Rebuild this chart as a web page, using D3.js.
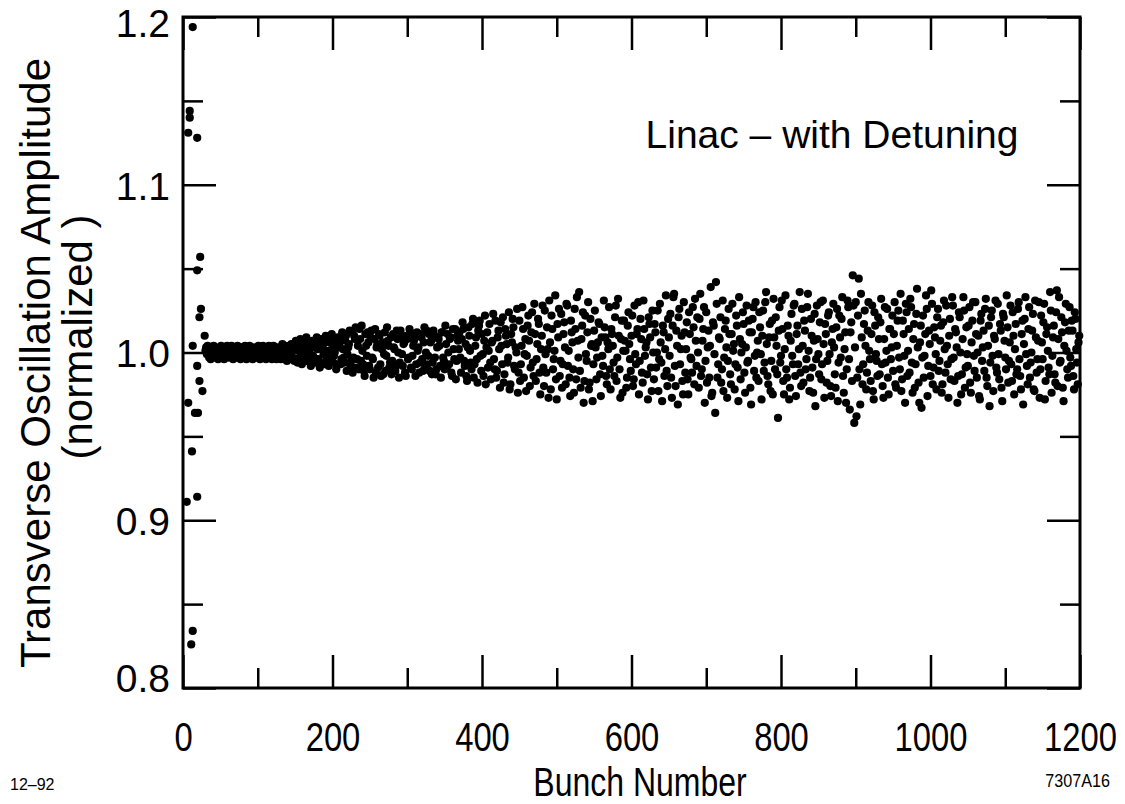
<!DOCTYPE html>
<html>
<head>
<meta charset="utf-8">
<script src="https://cdn.jsdelivr.net/npm/d3@7"></script>
<style>
  body { margin: 0; background: #fff; }
  svg { display: block; }
  text { font-family: "Liberation Sans", Arial, Helvetica, sans-serif; fill: #000; }
</style>
</head>
<body>
<svg width="1125" height="804"></svg>
<script>
// x ticks (bunch number) and y ticks (normalized amplitude)
var xMajor = [0, 200, 400, 600, 800, 1000, 1200];
var xMinor = [100, 300, 500, 700, 900, 1100];
var yMajor = [0.8, 0.9, 1.0, 1.1, 1.2];
var yMinor = [0.85, 0.95, 1.05, 1.15];

// first bunches, read one by one
var earlyBunch = [13, 9, 9, 7, 19, 23, 19, 24, 22, 29, 13, 19, 22, 26, 7, 16, 20, 12, 5, 19, 13, 11];
var earlyAmp = [1.194, 1.144, 1.140, 1.131, 1.128, 1.057, 1.049, 1.026, 1.021, 1.010, 1.004, 0.992,
  0.983, 0.977, 0.970, 0.964, 0.964, 0.941, 0.911, 0.914, 0.834, 0.826];

// rest of the train, even bunches 30, 32, ... 1198
var evenStart = 30;
var evenAmp = [
  // 30 - 148
  1.001, 0.999, 1.002, 1.000, 0.998, 1.001, 1.003, 0.999, 1.000, 1.002,
  0.998, 1.001, 0.999, 1.002, 1.000, 0.999, 1.003, 1.001, 0.998, 1.000,
  1.002, 0.999, 1.001, 1.003, 0.998, 1.000, 1.002, 0.999, 1.001, 0.998,
  1.003, 1.000, 0.999, 1.002, 1.001, 0.998, 1.000, 1.003, 0.999, 1.001,
  1.002, 0.998, 1.000, 1.003, 0.999, 1.001, 0.998, 1.002, 1.000, 0.999,
  1.003, 1.001, 0.998, 1.002, 0.999, 1.000, 1.004, 0.997, 1.001, 1.003,
  // 150 - 248
  0.996, 1.004, 1.001, 0.997, 1.005, 0.999, 1.003, 0.995, 1.006, 1.000,
  0.997, 1.004, 0.998, 1.007, 0.996, 1.002, 1.005, 0.994, 1.003, 0.999,
  1.006, 0.996, 1.001, 1.008, 0.995, 1.004, 0.998, 1.007, 0.993, 1.003,
  1.009, 0.996, 1.002, 0.994, 1.010, 0.999, 1.005, 0.992, 1.012, 0.997,
  1.008, 0.991, 1.004, 1.014, 0.995, 1.001, 0.989, 1.011, 0.998, 1.006,
  // 250 - 368
  0.990, 1.013, 0.996, 1.008, 0.988, 1.005, 1.011, 0.993, 1.002, 0.987,
  1.012, 0.998, 1.007, 0.991, 1.009, 0.995, 1.003, 0.989, 1.013, 1.000,
  0.994, 1.010, 0.992, 1.006, 0.986, 1.008, 0.997, 1.012, 0.990, 1.004,
  1.009, 0.993, 1.001, 0.988, 1.011, 0.996, 1.006, 0.991, 1.013, 0.998,
  0.989, 1.007, 0.994, 1.010, 0.987, 1.003, 1.008, 0.992, 1.012, 0.997,
  0.990, 1.005, 1.011, 0.993, 1.009, 0.986, 1.002, 1.014, 0.995, 1.007,
  // 370 - 1198
  1.012, 0.988, 1.018, 0.995, 1.005, 0.983, 1.015, 1.001, 0.990, 1.020,
  0.993, 1.009, 0.982, 1.016, 0.998, 1.011, 0.986, 1.022, 1.003, 0.991,
  1.017, 0.984, 1.007, 0.996, 1.019, 0.989, 1.013, 0.979, 1.004, 1.021,
  0.987, 1.010, 0.994, 1.024, 0.981, 1.006, 1.015, 0.990, 1.000, 0.976,
  1.019, 0.993, 1.027, 0.985, 1.008, 0.998, 1.022, 0.980, 1.012, 0.994,
  1.029, 0.983, 1.005, 1.017, 0.975, 1.010, 0.991, 1.025, 0.988, 1.002,
  1.031, 0.978, 1.014, 0.996, 1.034, 0.972, 1.009, 0.986, 1.023, 0.993,
  1.018, 0.981, 1.028, 1.001, 0.974, 1.012, 0.990, 1.026, 0.984, 1.007,
  1.036, 0.979, 1.016, 0.970, 1.022, 0.995, 1.030, 0.982, 1.004, 0.971,
  1.013, 1.003, 0.997, 1.018, 0.987, 1.009, 0.992, 1.015, 0.986, 1.006,
  1.027, 0.978, 1.011, 0.994, 1.021, 0.983, 1.032, 0.990, 1.008, 0.976,
  1.019, 1.001, 0.985, 1.024, 0.996, 1.010, 0.980, 1.028, 0.993, 1.014,
  0.975, 1.020, 0.988, 1.031, 0.998, 1.006, 0.972, 1.017, 0.991, 1.025,
  0.984, 1.012, 1.000, 0.977, 1.029, 0.994, 1.016, 0.986, 1.034, 0.980,
  1.009, 1.023, 0.973, 1.033, 0.992, 1.013, 0.969, 1.026, 1.002, 0.983,
  1.030, 0.988, 1.018, 0.975, 1.011, 0.996, 1.027, 0.981, 1.007, 1.021,
  0.979, 1.035, 0.990, 1.014, 0.970, 1.024, 1.003, 0.985, 1.039, 0.976,
  1.016, 0.964, 1.029, 0.993, 1.008, 0.982, 1.031, 0.997, 1.019, 0.973,
  1.026, 0.987, 1.011, 1.001, 0.978, 1.022, 0.991, 1.033, 0.984, 1.005,
  1.017, 0.976, 1.028, 0.995, 1.012, 0.969, 1.020, 0.989, 1.030, 1.000,
  0.983, 1.015, 0.972, 1.025, 0.994, 1.036, 0.986, 1.009, 0.977, 1.019,
  1.032, 0.990, 1.004, 0.961, 1.027, 0.998, 1.014, 0.975, 1.034, 0.985,
  1.010, 0.979, 1.023, 0.993, 1.029, 0.974, 1.016, 1.002, 0.988, 1.026,
  0.982, 1.013, 0.996, 1.035, 0.977, 1.020, 0.991, 1.007, 0.968, 1.028,
  0.999, 1.018, 0.984, 1.031, 0.973, 1.011, 0.995, 1.024, 0.980, 1.006,
  1.029, 0.987, 1.015, 0.971, 1.022, 0.997, 1.033, 0.976, 1.012, 0.990,
  1.027, 0.966, 1.018, 1.046, 0.958, 1.030, 0.985, 1.044, 0.969, 1.009,
  0.993, 1.025, 0.978, 1.013, 1.001, 0.983, 1.028, 0.972, 1.016, 0.995,
  1.021, 0.987, 1.032, 0.980, 1.008, 0.994, 1.026, 0.975, 1.014, 1.003,
  0.989, 1.030, 0.979, 1.019, 0.997, 1.035, 0.984, 1.011, 0.970, 1.024,
  1.001, 0.988, 1.027, 0.976, 1.017, 0.993, 1.038, 0.982, 1.006, 0.967,
  1.022, 0.998, 1.034, 0.974, 1.013, 0.986, 1.029, 0.991, 1.009, 0.978,
  1.026, 0.995, 1.016, 0.981, 1.031, 0.988, 1.004, 0.973, 1.020, 0.996,
  1.028, 0.983, 1.012, 0.970, 1.024, 1.000, 0.987, 1.033, 0.979, 1.015,
  0.992, 1.027, 0.976, 1.019, 0.998, 1.030, 0.985, 1.010, 0.972, 1.023,
  1.003, 0.989, 1.032, 0.980, 1.016, 0.994, 1.025, 0.977, 1.008, 0.991,
  1.029, 0.984, 1.013, 0.971, 1.021, 0.997, 1.034, 0.982, 1.006, 0.993,
  1.024, 0.975, 1.017, 0.990, 1.030, 0.986, 1.011, 0.969, 1.020, 0.999,
  0.981, 1.027, 0.994, 1.013, 0.978, 1.031, 0.988, 1.007, 0.973, 1.022,
  0.996, 1.029, 0.983, 1.015, 0.991, 1.036, 0.976, 1.009, 0.987, 1.024,
  0.980, 1.033, 0.995, 1.012, 0.971, 1.018, 1.001, 0.985, 1.027, 0.992,
  1.013, 0.978, 1.020, 0.994, 1.006
];

// odd bunches 31, 33, ... 1199
var oddStart = 31;
var oddAmp = [
  // 31 - 149
  1.003, 1.004, 0.997, 0.996, 1.001, 1.004, 0.997, 1.000, 0.996, 1.003,
  1.004, 0.998, 0.996, 1.002, 1.004, 0.997, 0.999, 1.004, 0.996, 1.002,
  0.997, 1.004, 1.000, 0.996, 1.003, 0.997, 1.004, 0.996, 1.001, 1.004,
  0.997, 0.996, 1.003, 1.000, 0.997, 1.004, 0.996, 1.002, 1.004, 0.997,
  0.996, 1.003, 1.004, 0.998, 0.996, 1.004, 1.001, 0.996, 1.003, 0.997,
  0.996, 1.005, 0.998, 1.004, 0.995, 1.003, 0.996, 1.005, 0.997, 0.995,
  // 151 - 249
  1.007, 0.994, 1.002, 1.008, 0.993, 0.998, 1.006, 1.009, 0.995, 1.001,
  0.992, 1.007, 1.003, 0.994, 1.009, 0.996, 0.991, 1.008, 1.004, 0.993,
  1.010, 0.997, 0.992, 1.006, 1.011, 0.994, 1.000, 0.990, 1.009, 1.005,
  0.993, 1.012, 0.997, 1.007, 0.989, 1.003, 1.013, 0.995, 0.988, 1.010,
  1.015, 0.996, 0.990, 1.008, 1.016, 0.993, 0.986, 1.004, 1.012, 0.992,
  // 251 - 369
  1.009, 0.997, 0.985, 1.014, 1.003, 0.991, 1.010, 0.986, 1.006, 0.999,
  0.989, 1.015, 1.004, 0.994, 0.987, 1.011, 1.002, 0.992, 1.008, 0.985,
  1.013, 0.999, 1.005, 0.988, 1.010, 0.996, 1.014, 0.991, 0.998, 1.007,
  0.986, 1.012, 1.003, 0.994, 1.009, 0.989, 1.015, 1.000, 0.993, 1.011,
  1.006, 0.987, 1.013, 0.997, 0.990, 1.009, 1.004, 0.985, 1.012, 0.995,
  1.016, 0.991, 1.000, 1.008, 0.988, 1.014, 0.996, 0.984, 1.010, 1.002,
  // 371 - 1199
  0.997, 1.008, 1.014, 0.992, 0.986, 1.003, 1.010, 0.994, 1.017, 0.985,
  1.004, 0.996, 1.013, 1.019, 0.989, 0.999, 1.007, 0.981, 1.012, 1.001,
  0.994, 1.006, 1.023, 0.990, 0.985, 1.009, 1.002, 1.018, 0.993, 0.982,
  1.014, 1.005, 0.997, 0.978, 1.011, 1.020, 0.992, 1.003, 1.026, 0.988,
  0.983, 1.004, 1.014, 0.999, 0.977, 1.016, 1.007, 0.991, 1.024, 0.986,
  1.011, 0.996, 1.020, 0.988, 1.002, 1.028, 0.980, 0.999, 1.015, 0.973,
  1.006, 1.022, 0.990, 1.001, 0.984, 1.017, 1.026, 0.995, 0.979, 1.011,
  1.003, 1.029, 0.992, 0.985, 1.019, 1.006, 0.976, 1.014, 1.033, 0.997,
  0.989, 1.008, 1.024, 0.983, 0.999, 1.012, 0.978, 1.020, 1.005, 0.993,
  1.025, 0.984, 1.006, 1.017, 0.974, 0.998, 1.031, 1.009, 0.981, 1.002,
  0.990, 1.014, 1.004, 0.986, 1.028, 0.997, 1.010, 0.973, 1.019, 1.001,
  1.007, 0.979, 1.016, 1.005, 0.989, 1.022, 0.984, 0.999, 1.011, 1.030,
  0.995, 1.008, 0.982, 1.014, 1.003, 0.987, 1.021, 1.009, 0.977, 1.000,
  1.017, 0.991, 1.025, 0.996, 1.006, 0.971, 1.012, 1.002, 0.989, 1.020,
  0.998, 0.985, 1.016, 1.035, 0.980, 1.004, 1.021, 0.993, 1.010, 0.975,
  1.012, 1.002, 0.984, 1.024, 0.997, 0.988, 1.015, 1.032, 0.992, 1.000,
  1.020, 0.986, 1.007, 1.027, 0.995, 0.982, 1.013, 1.004, 0.974, 1.018,
  0.999, 1.042, 0.985, 1.009, 1.021, 0.990, 0.977, 1.014, 1.003, 0.995,
  1.011, 0.981, 1.029, 1.005, 0.993, 1.016, 0.971, 1.008, 1.000, 1.024,
  0.988, 1.003, 0.994, 1.019, 0.979, 1.012, 1.027, 0.998, 0.985, 1.007,
  1.024, 0.999, 1.010, 0.989, 1.030, 1.005, 0.981, 1.017, 0.995, 0.975,
  1.009, 1.021, 0.987, 1.013, 0.994, 1.031, 0.983, 1.002, 0.990, 1.016,
  0.972, 1.007, 0.998, 1.028, 0.986, 1.011, 0.993, 1.036, 0.980, 1.004,
  1.019, 0.990, 1.027, 1.001, 0.985, 1.010, 0.976, 1.023, 0.996, 1.008,
  0.987, 1.030, 0.993, 1.005, 1.017, 0.982, 1.022, 0.999, 0.974, 1.014,
  1.003, 0.979, 1.026, 0.994, 1.009, 1.020, 0.986, 1.002, 0.970, 1.031,
  0.996, 1.012, 0.983, 1.028, 1.003, 0.962, 1.022, 0.990, 1.035, 0.981,
  1.017, 1.004, 0.988, 1.030, 0.996, 1.011, 0.977, 1.024, 0.999, 0.986,
  1.008, 1.018, 0.993, 0.973, 1.027, 1.001, 0.985, 1.014, 0.996, 1.022,
  1.011, 0.981, 1.004, 1.025, 0.990, 0.977, 1.019, 0.998, 1.029, 0.986,
  1.014, 1.032, 0.994, 1.008, 0.979, 1.023, 1.003, 0.970, 1.016, 0.997,
  0.985, 1.011, 1.026, 0.992, 1.005, 1.037, 0.981, 1.015, 0.999, 1.021,
  0.989, 1.007, 0.976, 1.018, 1.002, 1.028, 0.993, 1.010, 0.984, 1.033,
  0.997, 1.014, 1.003, 0.986, 1.021, 0.975, 1.008, 1.025, 0.991, 0.999,
  1.016, 0.982, 1.006, 1.030, 0.989, 1.011, 1.000, 0.974, 1.019, 0.995,
  1.013, 1.026, 0.985, 1.004, 0.968, 1.021, 0.998, 1.010, 1.031, 0.988,
  0.999, 1.017, 0.979, 1.023, 1.007, 0.990, 1.015, 0.995, 1.028, 0.983,
  1.010, 1.002, 0.987, 1.026, 0.996, 0.978, 1.019, 1.005, 1.033, 0.992,
  1.014, 0.985, 1.000, 1.023, 0.977, 1.009, 0.996, 1.030, 0.990, 1.006,
  1.018, 0.972, 1.011, 1.001, 0.987, 1.025, 0.998, 1.016, 0.982, 1.037,
  1.008, 0.994, 1.021, 0.979, 1.004, 1.029, 0.990, 1.013, 0.997, 1.019,
  0.986, 1.024, 1.002, 0.981, 1.010
];

var svg = d3.select("svg");
var plotLeft = 183, plotRight = 1080, plotTop = 17, plotBottom = 688;

var x = d3.scaleLinear().domain([0, 1200]).range([plotLeft, plotRight]);
var y = d3.scaleLinear().domain([0.8, 1.2]).range([plotBottom, plotTop]);

var points = [];
earlyBunch.forEach(function (b, i) {
    points.push({ bunch: b, amp: earlyAmp[i] });
});
evenAmp.forEach(function (a, i) {
    points.push({ bunch: evenStart + i * 2, amp: a });
});
oddAmp.forEach(function (a, i) {
    points.push({ bunch: oddStart + i * 2, amp: a });
});

// dots
svg.append("g")
    .selectAll("circle")
    .data(points)
    .enter()
    .append("circle")
    .attr("cx", function (d) { return x(d.bunch); })
    .attr("cy", function (d) { return y(d.amp); })
    .attr("r", 4.1)
    .attr("fill", "#000");

// axes, ticks pointing inwards
function styleAxis(g) {
    g.select(".domain").remove();
    g.selectAll(".tick line").attr("stroke", "#000").attr("stroke-width", 2.5);
}

var bottomAxis = svg.append("g")
    .attr("transform", "translate(0," + plotBottom + ")")
    .call(d3.axisBottom(x).tickValues(xMajor).tickSize(-33).tickPadding(34).tickFormat(d3.format("d")))
    .call(styleAxis);
bottomAxis.selectAll("text")
    .attr("font-size", 41)
    .attr("font-family", "Liberation Sans, Arial, sans-serif")
    .attr("fill", "#000")
    .attr("transform", "scale(0.8,1)");

svg.append("g")
    .attr("transform", "translate(0," + plotBottom + ")")
    .call(d3.axisBottom(x).tickValues(xMinor).tickSize(-20).tickFormat(""))
    .call(styleAxis);

svg.append("g")
    .attr("transform", "translate(0," + plotTop + ")")
    .call(d3.axisTop(x).tickValues(xMajor).tickSize(-33).tickFormat(""))
    .call(styleAxis);
svg.append("g")
    .attr("transform", "translate(0," + plotTop + ")")
    .call(d3.axisTop(x).tickValues(xMinor).tickSize(-20).tickFormat(""))
    .call(styleAxis);

var leftAxis = svg.append("g")
    .attr("transform", "translate(" + plotLeft + ",0)")
    .call(d3.axisLeft(y).tickValues(yMajor).tickSize(-33).tickPadding(13).tickFormat(d3.format(".1f")))
    .call(styleAxis);
leftAxis.selectAll("text")
    .attr("font-size", 39)
    .attr("font-family", "Liberation Sans, Arial, sans-serif")
    .attr("fill", "#000")
    .attr("dy", function (d) {
        if (d === 1.2) return "0.5em";
        if (d === 0.8) return "0.08em";
        return "0.37em";
    });

svg.append("g")
    .attr("transform", "translate(" + plotLeft + ",0)")
    .call(d3.axisLeft(y).tickValues(yMinor).tickSize(-20).tickFormat(""))
    .call(styleAxis);

svg.append("g")
    .attr("transform", "translate(" + plotRight + ",0)")
    .call(d3.axisRight(y).tickValues(yMajor).tickSize(-33).tickFormat(""))
    .call(styleAxis);
svg.append("g")
    .attr("transform", "translate(" + plotRight + ",0)")
    .call(d3.axisRight(y).tickValues(yMinor).tickSize(-20).tickFormat(""))
    .call(styleAxis);

// frame
svg.append("rect")
    .attr("x", plotLeft)
    .attr("y", plotTop)
    .attr("width", plotRight - plotLeft)
    .attr("height", plotBottom - plotTop)
    .attr("fill", "none")
    .attr("stroke", "#000")
    .attr("stroke-width", 3);

// labels
svg.append("text")
    .attr("transform", "translate(50,363) rotate(-90)")
    .attr("text-anchor", "middle")
    .attr("font-size", 42)
    .text("Transverse Oscillation Amplitude");

svg.append("text")
    .attr("transform", "translate(92,337) rotate(-90)")
    .attr("text-anchor", "middle")
    .attr("font-size", 42)
    .text("(normalized )");

svg.append("text")
    .attr("transform", "translate(640,796) scale(0.8,1)")
    .attr("text-anchor", "middle")
    .attr("font-size", 40)
    .text("Bunch Number");

svg.append("text")
    .attr("x", 832)
    .attr("y", 148)
    .attr("text-anchor", "middle")
    .attr("font-size", 39)
    .text("Linac \u2013 with Detuning");

svg.append("text")
    .attr("x", 10)
    .attr("y", 790)
    .attr("font-size", 16)
    .text("12\u201392");

svg.append("text")
    .attr("transform", "translate(1110,787) scale(0.85,1)")
    .attr("text-anchor", "end")
    .attr("font-size", 19)
    .text("7307A16");
</script>
</body>
</html>
